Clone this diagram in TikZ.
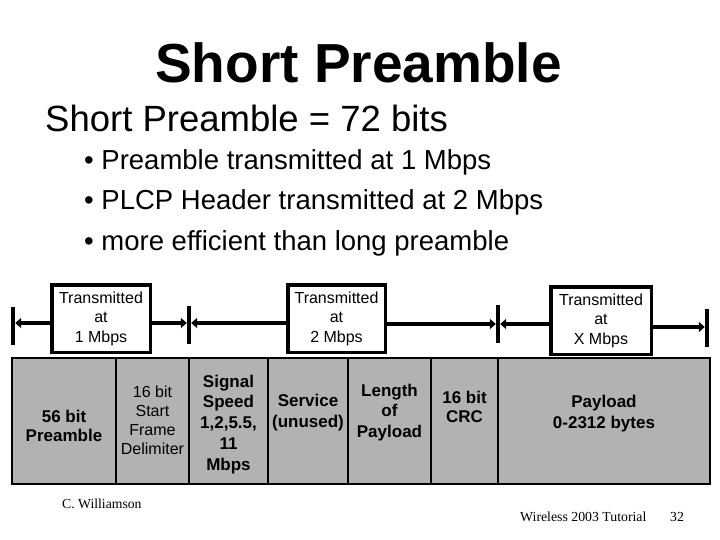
\documentclass[tikz,border=0pt]{standalone}
\usepackage{fontspec}
\setmainfont{Liberation Sans}
\newfontfamily\timesf{Liberation Serif}
\usetikzlibrary{arrows.meta}
\tikzset{
  boxst/.style={draw, line width=3.5pt, inner sep=0pt, align=center, font=\fontsize{16}{19.5}\selectfont},
  barst/.style={fill=black, inner sep=0pt, minimum width=4pt, minimum height=38pt},
  arr/.style={line width=3.5pt, -{Triangle[length=6pt,width=10pt]}},
  celltxt/.style={anchor=base, inner sep=0pt, align=center, font=\bfseries\fontsize{17}{20.7}\selectfont},
  cellthin/.style={anchor=base, inner sep=0pt, align=center, font=\fontsize{16}{18.7}\selectfont},
  tablefill/.style={fill=black!30, draw=black, line width=1.3pt},
  divider/.style={draw=black, line width=1.2pt},
}
\begin{document}
\begin{tikzpicture}[x=1pt,y=-1pt]
\useasboundingbox (0,0) rectangle (720,540);
% titles
\node[anchor=base, inner sep=0pt, font=\bfseries\fontsize{55}{60}\selectfont] (title) at (358.5,83) {Short Preamble};
\node[anchor=base west, inner sep=0pt, font=\fontsize{36.5}{40}\selectfont] (sub) at (45,132) {Short Preamble = 72 bits};
\node[anchor=base west, inner sep=0pt, font=\fontsize{27.5}{30}\selectfont] (b1) at (84,170) {• Preamble transmitted at 1 Mbps};
\node[anchor=base west, inner sep=0pt, font=\fontsize{27.5}{30}\selectfont] (b2) at (84,210) {• PLCP Header transmitted at 2 Mbps};
\node[anchor=base west, inner sep=0pt, font=\fontsize{27.5}{30}\selectfont] (b3) at (84,250) {• more efficient than long preamble};
% table
\draw[tablefill] (12,358) rectangle (710,484);
\foreach \xx in {116,189,268,348,431,498} {\draw[divider] (\xx,358) -- (\xx,484);}
\node[celltxt, font=\bfseries\fontsize{17}{19}\selectfont] (t1) at (64,441) {56 bit\\Preamble};
\node[cellthin] (t2) at (152.5,454) {16 bit\\Start\\Frame\\Delimiter};
\node[celltxt, font=\bfseries\fontsize{17}{20.75}\selectfont] (t3) at (228.5,470) {Signal\\Speed\\1,2,5.5,\\11\\Mbps};
\node[celltxt, font=\bfseries\fontsize{17}{21}\selectfont] (t4) at (308,427) {Service\\(unused)};
\node[celltxt, font=\bfseries\fontsize{17}{20.5}\selectfont] (t5) at (389.5,437) {Length\\of\\Payload};
\node[celltxt, font=\bfseries\fontsize{17}{19}\selectfont] (t6) at (464.5,422) {16 bit\\CRC};
\node[celltxt, font=\bfseries\fontsize{17}{21}\selectfont] (t7) at (604,428) {Payload\\0-2312 bytes};
% boxes
\node[boxst, minimum width=98.5pt, minimum height=67.5pt] (box1) at (101,318.5) {Transmitted\\at\\1 Mbps};
\node[boxst, minimum width=97.5pt, minimum height=67.5pt] (box2) at (336.5,318.5) {Transmitted\\at\\2 Mbps};
\node[boxst, minimum width=100.5pt, minimum height=67.5pt] (box3) at (601,320.5) {Transmitted\\at\\X Mbps};
% bars
\node[barst] (bar0) at (13,326) {};
\node[barst] (bar1) at (189,325) {};
\node[barst] (bar2) at (498,324) {};
\node[barst] (bar3) at (707,328) {};
\coordinate (a0) at (13,323);
\coordinate (a1) at (189,323);
\coordinate (a2) at (498,324);
\coordinate (a3) at (707,327);
% arrows
\draw[arr] (box1.west |- a0) -- (bar0.east |- a0);
\draw[arr] (box1.east |- a1) -- (bar1.west |- a1);
\draw[arr] (box2.west |- a1) -- (bar1.east |- a1);
\draw[arr] (box2.east |- a2) -- (bar2.west |- a2);
\draw[arr] (box3.west |- a2) -- (bar2.east |- a2);
\draw[arr] (box3.east |- a3) -- (bar3.west |- a3);
% footer
\node[anchor=base west, inner sep=0pt, font=\timesf\fontsize{13.7}{15}\selectfont] (f1) at (62,508) {C. Williamson};
\node[anchor=base west, inner sep=0pt, font=\timesf\fontsize{13.8}{15}\selectfont] (f2) at (520,521) {Wireless 2003 Tutorial};
\node[anchor=base west, inner sep=0pt, font=\timesf\fontsize{13.8}{15}\selectfont] (f3) at (670,521) {32};
\end{tikzpicture}
\end{document}
